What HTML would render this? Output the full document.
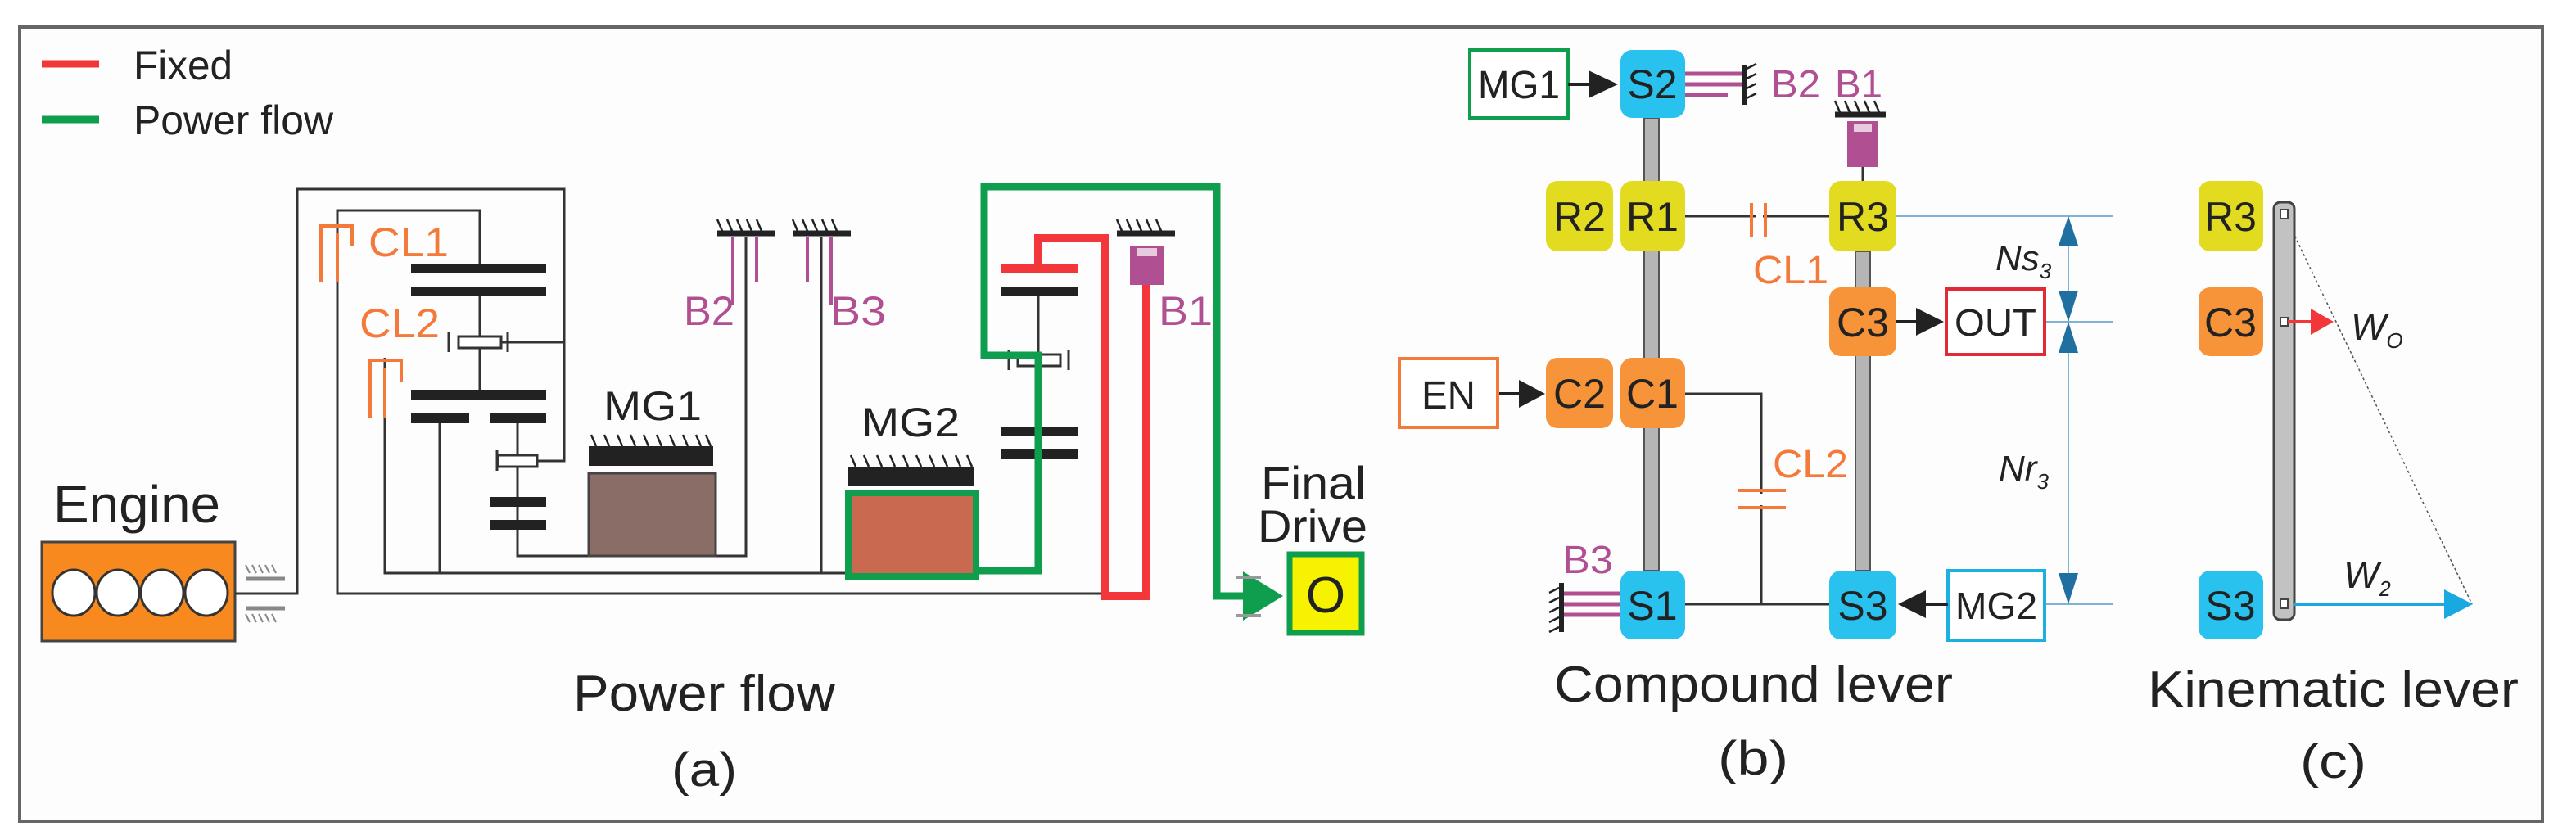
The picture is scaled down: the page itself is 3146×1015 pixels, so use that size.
<!DOCTYPE html>
<html><head><meta charset="utf-8"><style>html,body{margin:0;padding:0;background:#fff}svg{display:block}text{font-family:"Liberation Sans",sans-serif}</style></head><body>
<svg width="3146" height="1015" viewBox="0 0 3146 1015" xmlns="http://www.w3.org/2000/svg">
<rect x="0" y="0" width="3146" height="1015" fill="#fff"/>
<rect x="24" y="33" width="3081" height="970" fill="#fdfdfd" stroke="#666" stroke-width="4"/>
<!-- legend -->
<line x1="51" y1="78" x2="121" y2="78" stroke="#f2363a" stroke-width="9"/>
<line x1="51" y1="146" x2="121" y2="146" stroke="#0f9d4e" stroke-width="9"/>
<text x="163" y="97" font-size="50" fill="#222" textLength="121" lengthAdjust="spacingAndGlyphs">Fixed</text>
<text x="163" y="164" font-size="50" fill="#222" textLength="244" lengthAdjust="spacingAndGlyphs">Power flow</text>
<!-- engine -->
<text x="65" y="638" font-size="64" fill="#222" textLength="204" lengthAdjust="spacingAndGlyphs">Engine</text>
<rect x="51" y="662" width="236" height="121" fill="#f7891f" stroke="#444" stroke-width="3"/>
<g fill="#fff" stroke="#333" stroke-width="3"><ellipse cx="90" cy="724" rx="26" ry="28"/><ellipse cx="144" cy="724" rx="26" ry="28"/><ellipse cx="198" cy="724" rx="26" ry="28"/><ellipse cx="252" cy="724" rx="26" ry="28"/></g>
<g stroke="#888" stroke-width="5"><line x1="300" y1="707" x2="348" y2="707"/><line x1="300" y1="743" x2="348" y2="743"/></g>
<g stroke="#888" stroke-width="2"><path d="M305 700l-5 -10M313 700l-5 -10M321 700l-5 -10M329 700l-5 -10M337 700l-5 -10M305 760l-5 -10M313 760l-5 -10M321 760l-5 -10M329 760l-5 -10M337 760l-5 -10"/></g>
<!-- black shafts -->
<g fill="none" stroke="#333" stroke-width="3">
<path d="M287 725 H363 V231 H689 V563 H656"/>
<path d="M600 418 H689"/>
<path d="M412 344 V257 H586 V328"/>
<path d="M412 344 V725 H1350"/>
<path d="M586 362 V482"/>
<path d="M537 511 V700"/>
<path d="M632 511 V679 H911 V290"/>
<path d="M470 437 V700 H1032"/>
<path d="M1003 290 V700"/>
<path d="M1268 362 V527"/>
</g>
<!-- gears left -->
<g fill="#222"><rect x="502" y="322" width="165" height="12"/><rect x="502" y="350" width="165" height="12"/><rect x="502" y="476" width="165" height="12"/><rect x="502" y="505" width="71" height="12"/><rect x="598" y="505" width="69" height="12"/><rect x="598" y="607" width="69" height="12"/><rect x="598" y="635" width="69" height="12"/>
<rect x="1223" y="350" width="93" height="12"/><rect x="1223" y="521" width="93" height="12"/><rect x="1223" y="549" width="93" height="12"/></g>
<g fill="#fff" stroke="#333" stroke-width="3"><rect x="560" y="411" width="52" height="14"/><rect x="608" y="556" width="48" height="14"/><rect x="1243" y="433" width="52" height="14"/></g>
<g stroke="#333" stroke-width="3"><line x1="548" y1="406" x2="548" y2="430"/><line x1="620" y1="406" x2="620" y2="430"/><line x1="1232" y1="428" x2="1232" y2="452"/><line x1="1305" y1="428" x2="1305" y2="452"/><line x1="607" y1="550" x2="607" y2="575"/></g>
<!-- clutches -->
<g fill="none" stroke="#f47a3c" stroke-width="4"><path d="M392 344 V276 H430 V300"/><path d="M412 285 V344"/><path d="M452 510 V440 H490 V466"/><path d="M470 450 V510"/></g>
<text x="450" y="313" font-size="50" fill="#f47a3c" textLength="98" lengthAdjust="spacingAndGlyphs">CL1</text>
<text x="439" y="412" font-size="50" fill="#f47a3c" textLength="98" lengthAdjust="spacingAndGlyphs">CL2</text>
<!-- brakes B2 B3 -->
<g stroke="#222" stroke-width="7"><line x1="876" y1="285" x2="946" y2="285"/><line x1="968" y1="285" x2="1039" y2="285"/><line x1="1364" y1="285" x2="1435" y2="285"/><line x1="2241" y1="140" x2="2303" y2="140"/></g>
<g stroke="#222" stroke-width="2.5"><path d="M882 282l-6 -14M894 282l-6 -14M906 282l-6 -14M918 282l-6 -14M930 282l-6 -14M974 282l-6 -14M986 282l-6 -14M998 282l-6 -14M1010 282l-6 -14M1022 282l-6 -14M1370 282l-6 -14M1382 282l-6 -14M1394 282l-6 -14M1406 282l-6 -14M1418 282l-6 -14M2247 137l-6 -14M2259 137l-6 -14M2271 137l-6 -14M2283 137l-6 -14M2295 137l-6 -14"/></g>
<g stroke="#b14f93" stroke-width="4"><line x1="895" y1="290" x2="895" y2="372"/><line x1="924" y1="290" x2="924" y2="345"/><line x1="986" y1="290" x2="986" y2="345"/><line x1="1015" y1="290" x2="1015" y2="372"/></g>
<text x="835" y="397" font-size="50" fill="#b14f93" textLength="62" lengthAdjust="spacingAndGlyphs">B2</text>
<text x="1014" y="397" font-size="50" fill="#b14f93" textLength="68" lengthAdjust="spacingAndGlyphs">B3</text>
<!-- MG1 -->
<text x="737" y="513" font-size="50" fill="#222" textLength="120" lengthAdjust="spacingAndGlyphs">MG1</text>
<rect x="719" y="545" width="152" height="24" fill="#222"/>
<g stroke="#222" stroke-width="2.5"><path d="M728 545l-6 -14M744 545l-6 -14M760 545l-6 -14M776 545l-6 -14M792 545l-6 -14M808 545l-6 -14M824 545l-6 -14M840 545l-6 -14M856 545l-6 -14M868 545l-6 -14"/></g>
<rect x="719" y="578" width="155" height="101" fill="#8a6d66" stroke="#444" stroke-width="3"/>
<!-- MG2 -->
<text x="1052" y="533" font-size="50" fill="#222" textLength="120" lengthAdjust="spacingAndGlyphs">MG2</text>
<rect x="1036" y="570" width="154" height="24" fill="#222"/>
<g stroke="#222" stroke-width="2.5"><path d="M1045 570l-6 -14M1061 570l-6 -14M1077 570l-6 -14M1093 570l-6 -14M1109 570l-6 -14M1125 570l-6 -14M1141 570l-6 -14M1157 570l-6 -14M1173 570l-6 -14M1187 570l-6 -14"/></g>
<rect x="1036" y="602" width="156" height="102" fill="#c96a50" stroke="#0f9d4e" stroke-width="8"/>
<!-- red fixed path -->
<rect x="1223" y="322" width="93" height="12" fill="#f2363a"/>
<path d="M1268 328 V291 H1350 V728 H1400 V348" fill="none" stroke="#f2363a" stroke-width="10"/>
<!-- B1 -->
<rect x="1380" y="301" width="41" height="47" fill="#b14f93"/>
<rect x="1388" y="303" width="25" height="10" fill="#fff" opacity="0.7"/>
<text x="1415" y="397" font-size="50" fill="#b14f93" textLength="66" lengthAdjust="spacingAndGlyphs">B1</text>
<!-- green power flow -->
<path d="M1196 697 H1268 V434 H1202 V228 H1486 V728 H1525" fill="none" stroke="#0f9d4e" stroke-width="9"/>
<polygon points="1518,698 1567,728 1518,758" fill="#0f9d4e"/>
<g stroke="#999" stroke-width="4"><line x1="1510" y1="705" x2="1540" y2="705"/><line x1="1510" y1="752" x2="1540" y2="752"/></g>
<text x="1540" y="609" font-size="56" fill="#222" textLength="128" lengthAdjust="spacingAndGlyphs">Final</text>
<text x="1536" y="662" font-size="56" fill="#222" textLength="134" lengthAdjust="spacingAndGlyphs">Drive</text>
<rect x="1575" y="677" width="88" height="96" fill="#f6f200" stroke="#0f9d4e" stroke-width="7"/>
<text x="1619" y="748" font-size="62" fill="#222" text-anchor="middle">O</text>
<text x="700" y="868" font-size="62" fill="#222" textLength="320" lengthAdjust="spacingAndGlyphs">Power flow</text>
<text x="820" y="960" font-size="58" fill="#222" textLength="80" lengthAdjust="spacingAndGlyphs">(a)</text>

<!-- panel b -->
<rect x="2008" y="144" width="18" height="553" fill="#b5b5b5" stroke="#555" stroke-width="2"/>
<rect x="2266" y="307" width="18" height="390" fill="#b5b5b5" stroke="#555" stroke-width="2"/>
<g stroke="#333" stroke-width="3" fill="none"><path d="M2058 264 H2234"/><path d="M2058 481 H2151 V738"/><path d="M2058 738 H2234"/><path d="M2275 204 V221"/></g>
<g stroke="#f47a3c" stroke-width="4"><line x1="2139" y1="248" x2="2139" y2="290"/><line x1="2156" y1="248" x2="2156" y2="290"/><line x1="2123" y1="599" x2="2181" y2="599"/><line x1="2123" y1="620" x2="2181" y2="620"/></g>
<rect x="2145" y="255" width="8" height="18" fill="#fdfdfd"/>
<rect x="2140" y="603" width="20" height="14" fill="#fdfdfd"/>
<text x="2141" y="346" font-size="48" fill="#f47a3c" textLength="92" lengthAdjust="spacingAndGlyphs">CL1</text>
<text x="2165" y="583" font-size="48" fill="#f47a3c" textLength="92" lengthAdjust="spacingAndGlyphs">CL2</text>
<!-- MG1 box -->
<rect x="1795" y="61" width="120" height="83" fill="#fff" stroke="#0f9d4e" stroke-width="4"/>
<text x="1855" y="120" font-size="48" fill="#222" text-anchor="middle" textLength="100" lengthAdjust="spacingAndGlyphs">MG1</text>
<line x1="1915" y1="103" x2="1945" y2="103" stroke="#222" stroke-width="4"/><polygon points="1940,86 1976,103 1940,120" fill="#222"/>
<!-- B2 on S2 -->
<g stroke="#b14f93" stroke-width="5"><line x1="2058" y1="90" x2="2128" y2="90"/><line x1="2058" y1="103" x2="2128" y2="103"/><line x1="2058" y1="116" x2="2110" y2="116"/></g>
<line x1="2130" y1="80" x2="2130" y2="128" stroke="#222" stroke-width="6"/>
<g stroke="#222" stroke-width="2.5"><path d="M2133 84l12 -6M2133 96l12 -6M2133 108l12 -6M2133 120l12 -6"/></g>
<text x="2163" y="119" font-size="48" fill="#b14f93" textLength="60" lengthAdjust="spacingAndGlyphs">B2</text>
<text x="2241" y="119" font-size="48" fill="#b14f93" textLength="58" lengthAdjust="spacingAndGlyphs">B1</text>
<rect x="2256" y="148" width="38" height="56" fill="#b14f93"/><rect x="2264" y="152" width="22" height="9" fill="#fff" opacity="0.7"/>
<!-- B3 on S1 -->
<g stroke="#b14f93" stroke-width="5"><line x1="1910" y1="725" x2="1979" y2="725"/><line x1="1910" y1="738" x2="1979" y2="738"/><line x1="1910" y1="751" x2="1979" y2="751"/></g>
<line x1="1907" y1="712" x2="1907" y2="772" stroke="#222" stroke-width="6"/>
<g stroke="#222" stroke-width="2.5"><path d="M1904 718l-12 6M1904 730l-12 6M1904 742l-12 6M1904 754l-12 6M1904 766l-12 6"/></g>
<text x="1908" y="700" font-size="48" fill="#b14f93" textLength="62" lengthAdjust="spacingAndGlyphs">B3</text>
<!-- blue dims -->
<g stroke="#7fb3d3" stroke-width="2"><line x1="2316" y1="264" x2="2580" y2="264"/><line x1="2499" y1="393" x2="2580" y2="393"/><line x1="2499" y1="738" x2="2580" y2="738"/><line x1="2526" y1="264" x2="2526" y2="738"/></g>
<g fill="#1f6fa0"><polygon points="2526,264 2514,300 2538,300"/><polygon points="2526,393 2514,355 2538,355"/><polygon points="2526,393 2514,431 2538,431"/><polygon points="2526,738 2514,700 2538,700"/></g>
<text x="2437" y="330" font-size="44" fill="#222" font-style="italic">Ns<tspan font-size="26" dy="10">3</tspan></text>
<text x="2441" y="587" font-size="44" fill="#222" font-style="italic">Nr<tspan font-size="26" dy="10">3</tspan></text>
<!-- OUT / EN / MG2 boxes -->
<line x1="2316" y1="393" x2="2345" y2="393" stroke="#222" stroke-width="4"/><polygon points="2340,376 2374,393 2340,410" fill="#222"/>
<rect x="2377" y="353" width="120" height="80" fill="#fff" stroke="#e02a36" stroke-width="4"/>
<text x="2437" y="410" font-size="46" fill="#222" text-anchor="middle" textLength="100" lengthAdjust="spacingAndGlyphs">OUT</text>
<rect x="1709" y="438" width="120" height="84" fill="#fff" stroke="#f47a3c" stroke-width="4"/>
<text x="1769" y="499" font-size="48" fill="#222" text-anchor="middle" textLength="66" lengthAdjust="spacingAndGlyphs">EN</text>
<line x1="1831" y1="481" x2="1860" y2="481" stroke="#222" stroke-width="4"/><polygon points="1855,464 1887,481 1855,498" fill="#222"/>
<rect x="2379" y="697" width="118" height="85" fill="#fff" stroke="#1ab0e0" stroke-width="4"/>
<text x="2438" y="756" font-size="46" fill="#222" text-anchor="middle" textLength="100" lengthAdjust="spacingAndGlyphs">MG2</text>
<line x1="2379" y1="738" x2="2345" y2="738" stroke="#222" stroke-width="4"/><polygon points="2352,721 2318,738 2352,755" fill="#222"/>
<!-- nodes -->
<g font-size="50" text-anchor="middle" fill="#222">
<rect x="1979" y="61" width="79" height="83" rx="14" fill="#29c1ee"/><text x="2018" y="120" fill="#222">S2</text>
<rect x="1888" y="221" width="82" height="86" rx="14" fill="#e3db1f"/><text x="1929" y="282" fill="#222">R2</text>
<rect x="1979" y="221" width="79" height="86" rx="14" fill="#e3db1f"/><text x="2018" y="282" fill="#222">R1</text>
<rect x="2234" y="221" width="82" height="86" rx="14" fill="#e3db1f"/><text x="2275" y="282" fill="#222">R3</text>
<rect x="2234" y="351" width="82" height="84" rx="14" fill="#f7943a"/><text x="2275" y="411" fill="#222">C3</text>
<rect x="1888" y="437" width="82" height="86" rx="14" fill="#f7943a"/><text x="1929" y="498" fill="#222">C2</text>
<rect x="1979" y="437" width="79" height="86" rx="14" fill="#f7943a"/><text x="2018" y="498" fill="#222">C1</text>
<rect x="1979" y="697" width="79" height="84" rx="14" fill="#29c1ee"/><text x="2018" y="757" fill="#222">S1</text>
<rect x="2234" y="697" width="82" height="84" rx="14" fill="#29c1ee"/><text x="2275" y="757" fill="#222">S3</text>
<rect x="2685" y="221" width="79" height="86" rx="14" fill="#e3db1f"/><text x="2724" y="282" fill="#222">R3</text>
<rect x="2685" y="351" width="79" height="84" rx="14" fill="#f7943a"/><text x="2724" y="411" fill="#222">C3</text>
<rect x="2685" y="697" width="79" height="84" rx="14" fill="#29c1ee"/><text x="2724" y="757" fill="#222">S3</text>
</g>
<text x="1898" y="857" font-size="62" fill="#222" textLength="487" lengthAdjust="spacingAndGlyphs">Compound lever</text>
<text x="2098" y="946" font-size="58" fill="#222" textLength="86" lengthAdjust="spacingAndGlyphs">(b)</text>
<!-- panel c -->
<line x1="2800" y1="283" x2="3019" y2="738" stroke="#555" stroke-width="1.5" stroke-dasharray="3,3"/>
<rect x="2777" y="247" width="25" height="510" rx="8" fill="#c2c2c2" stroke="#444" stroke-width="3"/>
<g fill="#fff" stroke="#444" stroke-width="2"><rect x="2785" y="256" width="9" height="11"/><rect x="2785" y="388" width="9" height="10"/><rect x="2785" y="732" width="9" height="11"/></g>
<line x1="2794" y1="393" x2="2828" y2="393" stroke="#f2363a" stroke-width="4"/><polygon points="2822,377 2850,393 2822,409" fill="#f2363a"/>
<line x1="2802" y1="738" x2="2995" y2="738" stroke="#1aa8e0" stroke-width="4"/><polygon points="2985,720 3020,738 2985,756" fill="#1aa8e0"/>
<text x="2871" y="415" font-size="46" fill="#222" font-style="italic">W<tspan font-size="26" dy="10">O</tspan></text>
<text x="2862" y="718" font-size="46" fill="#222" font-style="italic">W<tspan font-size="26" dy="10">2</tspan></text>
<text x="2623" y="863" font-size="62" fill="#222" textLength="453" lengthAdjust="spacingAndGlyphs">Kinematic lever</text>
<text x="2809" y="950" font-size="58" fill="#222" textLength="81" lengthAdjust="spacingAndGlyphs">(c)</text>
</svg>
</body></html>
